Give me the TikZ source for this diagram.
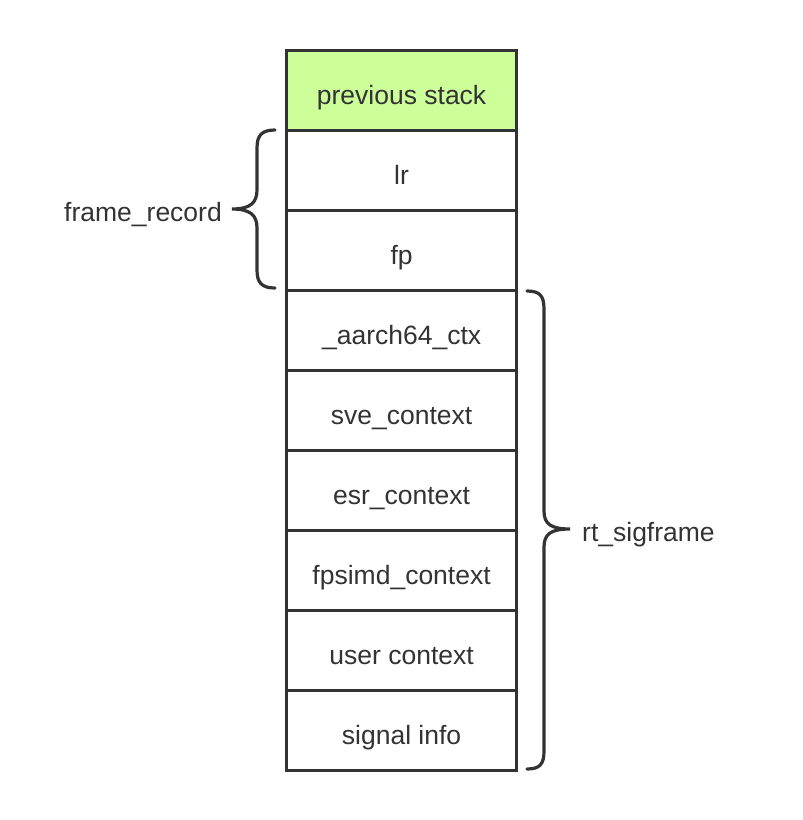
\documentclass[tikz,border=0pt]{standalone}
\usepackage{fontspec}
\setmainfont{Liberation Sans}
\definecolor{ink}{HTML}{333333}
\definecolor{prevgreen}{HTML}{CCFF99}
\begin{document}
\begin{tikzpicture}[x=1pt,y=-1pt,
  cell/.style={draw=ink,line width=3.2pt,minimum width=230pt,minimum height=80pt,inner sep=0pt,anchor=north west},
  lbl/.style={text=ink,font=\fontsize{26.5}{30}\selectfont,inner sep=0pt,anchor=base}]
\useasboundingbox (0,0) rectangle (803,820);
\tikzset{brace/.style={draw=ink,line width=3.2pt,line cap=round}}
\node[cell,fill=prevgreen] (c0) at (285,49) {};
\node[cell] (c1) at (285,129) {};
\node[cell] (c2) at (285,209) {};
\node[cell] (c3) at (285,289) {};
\node[cell] (c4) at (285,369) {};
\node[cell] (c5) at (285,449) {};
\node[cell] (c6) at (285,529) {};
\node[cell] (c7) at (285,609) {};
\node[cell] (c8) at (285,689) {};
\node[lbl] (t0) at ([yshift=-13.5pt]c0.center) {previous stack};
\node[lbl] (t1) at ([yshift=-13.5pt]c1.center) {lr};
\node[lbl] (t2) at ([yshift=-13.5pt]c2.center) {fp};
\node[lbl] (t3) at ([yshift=-13.5pt]c3.center) {\_aarch64\_ctx};
\node[lbl] (t4) at ([yshift=-13.5pt]c4.center) {sve\_context};
\node[lbl] (t5) at ([yshift=-13.5pt]c5.center) {esr\_context};
\node[lbl] (t6) at ([yshift=-13.5pt]c6.center) {fpsimd\_context};
\node[lbl] (t7) at ([yshift=-13.5pt]c7.center) {user context};
\node[lbl] (t8) at ([yshift=-13.5pt]c8.center) {signal info};
\draw[brace] (275,130) .. controls (262,130) and (257,135) .. (257,148) -- (257,190) .. controls (257,203) and (250,209) .. (232,209) .. controls (250,209) and (257,215) .. (257,228) -- (257,270) .. controls (257,283) and (262,288) .. (275,288);
\draw[brace] (527,291) .. controls (540,291) and (544,296) .. (544,309) -- (544,511) .. controls (544,524) and (551,529) .. (570,529) .. controls (551,529) and (544,534) .. (544,547) -- (544,751) .. controls (544,764) and (540,769) .. (527,769);
\node[lbl,anchor=base east] (fr) at (222,221) {frame\_record};
\node[lbl,anchor=base west] (rt) at (582,541) {rt\_sigframe};
\end{tikzpicture}
\end{document}
